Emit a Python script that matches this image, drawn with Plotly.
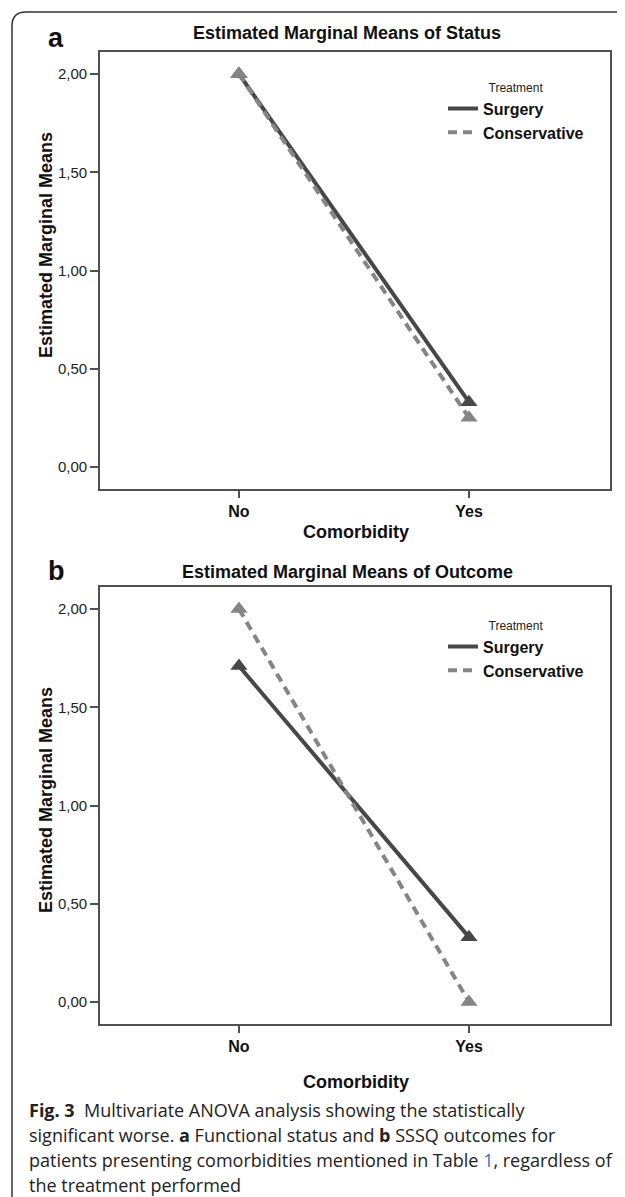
import plotly.graph_objects as go

# ---- data ----
categories = ["No", "Yes"]
status_surgery = [2.00, 0.33]
status_conservative = [2.00, 0.25]
outcome_surgery = [1.71, 0.33]
outcome_conservative = [2.00, 0.00]
y_ticks = [0.0, 0.5, 1.0, 1.5, 2.0]
series_names = ["Surgery", "Conservative"]

# page body adds an 8px margin, so the figure is slightly smaller than the window
OFF = 8
W, H = 625 - OFF, 1197 - OFF
FONT = "Liberation Sans, Arial, sans-serif"
DARK = "#474747"
LIGHT = "#858585"
AX = "#505050"


def px_x(p):
    return (p - OFF) / W


def px_y(p):
    return 1 - (p - OFF) / H


fig = go.Figure()

panels = [
    dict(xa="x", ya="y", leg="legend", s=status_surgery, c=status_conservative),
    dict(xa="x2", ya="y2", leg="legend2", s=outcome_surgery, c=outcome_conservative),
]

for p in panels:
    fig.add_trace(go.Scatter(x=categories, y=p["s"], mode="lines", name=series_names[0],
                             line=dict(color=DARK, width=4), xaxis=p["xa"], yaxis=p["ya"],
                             legend=p["leg"]))
    fig.add_trace(go.Scatter(x=categories, y=p["c"], mode="lines", name=series_names[1],
                             line=dict(color=LIGHT, width=4, dash="9px,6px"),
                             xaxis=p["xa"], yaxis=p["ya"], legend=p["leg"]))
    fig.add_trace(go.Scatter(x=categories, y=p["s"], mode="markers", showlegend=False,
                             marker=dict(symbol="triangle-up", size=15, color=DARK),
                             xaxis=p["xa"], yaxis=p["ya"]))
    fig.add_trace(go.Scatter(x=categories, y=p["c"], mode="markers", showlegend=False,
                             marker=dict(symbol="triangle-up", size=15, color=LIGHT),
                             xaxis=p["xa"], yaxis=p["ya"]))

axis_common = dict(showline=True, linecolor=AX, linewidth=1.6, mirror=True,
                   ticks="outside", tickcolor=AX, tickwidth=1.5,
                   showgrid=False, zeroline=False)

xdom = [px_x(100), px_x(610)]
xaxis_cfg = dict(axis_common, type="category", range=[-0.604, 1.613], ticklen=7,
                 tickfont=dict(family=FONT, size=16, color="#111", weight="bold"))
yaxis_cfg = dict(axis_common, range=[-0.112, 2.112], tickvals=y_ticks, tickformat=".2f",
                 ticklen=8, tickfont=dict(family=FONT, size=15, color="#222"))

legend_common = dict(xanchor="left", yanchor="top", bgcolor="rgba(0,0,0,0)",
                     font=dict(family=FONT, size=16, color="#111", weight="bold"),
                     itemwidth=30, tracegroupgap=0,
                     title=dict(text="Treatment", side="top center",
                                font=dict(family=FONT, size=12, color="#222",
                                          weight="normal")))

fig.update_layout(
    width=W, height=H,
    margin=dict(l=0, r=0, t=0, b=0),
    paper_bgcolor="white", plot_bgcolor="white",
    separators=",.",
    showlegend=True,
    xaxis=dict(xaxis_cfg, domain=xdom, anchor="y"),
    yaxis=dict(yaxis_cfg, domain=[px_y(489), px_y(52)], anchor="x"),
    xaxis2=dict(xaxis_cfg, domain=xdom, anchor="y2"),
    yaxis2=dict(yaxis_cfg, domain=[px_y(1024), px_y(587)], anchor="x2"),
    legend=dict(legend_common, x=px_x(443), y=px_y(76)),
    legend2=dict(legend_common, x=px_x(443), y=px_y(614)),
)

ann = []


def text(x, y, t, size, bold=True, xanchor="center", angle=0, family=FONT, color="#111"):
    ann.append(dict(x=px_x(x), y=px_y(y), xref="paper", yref="paper", text=t,
                    showarrow=False, xanchor=xanchor, yanchor="middle", textangle=angle,
                    font=dict(family=family, size=size, color=color,
                              weight="bold" if bold else "normal")))


# panel letters and titles
text(56, 38, "a", 27)
text(347, 33, "Estimated Marginal Means of Status", 18)
text(56, 571, "b", 27)
text(347, 572, "Estimated Marginal Means of Outcome", 18)
# axis titles
text(46, 245, "Estimated Marginal Means", 18, angle=-90)
text(46, 800, "Estimated Marginal Means", 18, angle=-90)
text(356, 532, "Comorbidity", 18)
text(356, 1082, "Comorbidity", 18)

# caption
CAP = "Open Sans, Noto Sans, sans-serif"
cap_lines = [
    "<b>Fig. 3</b>  Multivariate ANOVA analysis showing the statistically",
    "significant worse. <b>a</b> Functional status and <b>b</b> SSSQ outcomes for",
    "patients presenting comorbidities mentioned in Table <span style='color:#3a6fc4'>1</span>, regardless of",
    "the treatment performed",
]
for i, line in enumerate(cap_lines):
    text(27, 1110 + 25 * i, line, 18, bold=False, xanchor="left", family=CAP, color="#222")

fig.update_layout(annotations=ann)

# outer rounded frame (top-left corner)
x0, yt = px_x(12), px_y(12)
rx, ry = 14 / W, 14 / H
fig.add_shape(type="path", xref="paper", yref="paper",
              path=f"M {x0},{px_y(1200)} L {x0},{yt - ry} Q {x0},{yt} {x0 + rx},{yt} L {px_x(640)},{yt}",
              line=dict(color="#333", width=1.5))

fig.write_html("out.html")
